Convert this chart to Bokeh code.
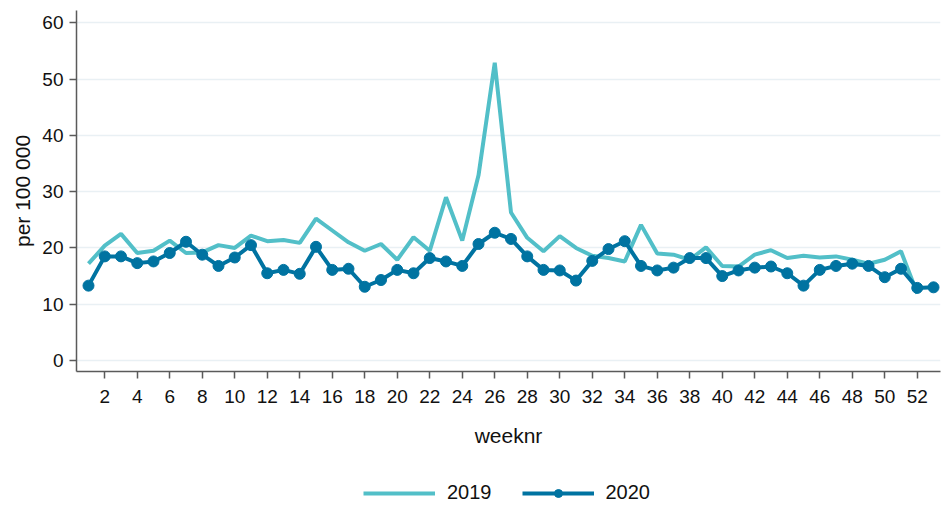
from bokeh.plotting import figure
from bokeh.models import FixedTicker, Legend, LegendItem, Range1d
from bokeh.layouts import column
from bokeh.embed import file_html
from bokeh.resources import INLINE

weeks_2019 = list(range(1, 53))
rate_2019 = [17.2, 20.4, 22.5, 19.1, 19.5, 21.3, 19.1, 19.2, 20.5, 20.0,
             22.2, 21.2, 21.4, 20.9, 25.2, 23.1, 21.0, 19.5, 20.7, 17.9,
             21.9, 19.5, 29.0, 21.3, 32.9, 52.9, 26.3, 21.8, 19.4, 22.1,
             20.0, 18.6, 18.2, 17.6, 24.1, 19.0, 18.8, 17.9, 20.1, 16.8,
             16.7, 18.8, 19.6, 18.2, 18.6, 18.3, 18.5, 17.9, 17.2, 17.9,
             19.4, 11.9]

weeks_2020 = list(range(1, 54))
rate_2020 = [13.3, 18.5, 18.5, 17.3, 17.6, 19.1, 21.1, 18.8, 16.8, 18.3,
             20.5, 15.5, 16.1, 15.4, 20.2, 16.1, 16.3, 13.1, 14.3, 16.1,
             15.5, 18.2, 17.6, 16.8, 20.7, 22.7, 21.6, 18.5, 16.1, 16.0,
             14.2, 17.7, 19.8, 21.2, 16.8, 16.0, 16.5, 18.2, 18.2, 15.0,
             16.0, 16.5, 16.7, 15.5, 13.3, 16.1, 16.8, 17.2, 16.8, 14.8,
             16.3, 12.9, 13.0]

x_ticks = list(range(2, 53, 2))
y_ticks = [0, 10, 20, 30, 40, 50, 60]
series_names = ["2019", "2020"]

C2019 = "#52bfc8"
C2020 = "#0073a1"
FONT = "Liberation Sans"
AXC = "#5a5a5a"

p = figure(width=942, height=478, output_backend="svg", toolbar_location=None,
           x_range=Range1d(0.262, 53.43), y_range=Range1d(-1.96, 62.2),
           min_border_left=76, min_border_right=2, min_border_top=10,
           min_border_bottom=107)
p.outline_line_color = None
p.background_fill_color = "white"
p.border_fill_color = "white"

p.line(weeks_2019, rate_2019, line_color=C2019, line_width=4)
p.line(weeks_2020, rate_2020, line_color=C2020, line_width=4)
p.scatter(weeks_2020, rate_2020, size=11, fill_color=C2020, line_color=C2020)

p.xgrid.visible = False
p.ygrid.grid_line_color = "#e9f0f4"
p.ygrid.grid_line_width = 1.5

for ax in (p.xaxis[0], p.yaxis[0]):
    ax.axis_line_color = AXC
    ax.axis_line_width = 1.5
    ax.major_tick_line_color = AXC
    ax.major_tick_line_width = 1.5
    ax.major_tick_in = 0
    ax.major_tick_out = 7
    ax.minor_tick_line_color = None
    ax.major_label_text_font = FONT
    ax.major_label_text_font_size = "19px"
    ax.major_label_text_color = "#111111"
    ax.axis_label_text_font = FONT
    ax.axis_label_text_font_size = "21px"
    ax.axis_label_text_font_style = "normal"
    ax.axis_label_text_color = "#111111"

p.xaxis.ticker = FixedTicker(ticks=x_ticks)
p.yaxis.ticker = FixedTicker(ticks=y_ticks)
p.xaxis.axis_label = "weeknr"
p.yaxis.axis_label = "per 100 000"
p.xaxis.major_label_standoff = 11
p.xaxis.axis_label_standoff = 18
p.yaxis.major_label_standoff = 6
p.yaxis.axis_label_standoff = 5

# legend strip below the chart (series drawn out of view, only the legend shows)
lg = figure(width=942, height=28, output_backend="svg", toolbar_location=None,
            x_range=Range1d(0, 1), y_range=Range1d(1000, 1001),
            x_axis_location=None, y_axis_location=None, min_border=0)
lg.outline_line_color = None
lg.grid.visible = False
k19 = lg.line(weeks_2019, rate_2019, line_color=C2019, line_width=4)
k20l = lg.line(weeks_2020, rate_2020, line_color=C2020, line_width=4)
k20s = lg.scatter(weeks_2020, rate_2020, size=11, fill_color=C2020, line_color=C2020)

legend = Legend(items=[LegendItem(label=series_names[0], renderers=[k19]),
                       LegendItem(label=series_names[1], renderers=[k20l, k20s])],
                location=(287, 2), orientation="horizontal",
                glyph_width=72, glyph_height=20, label_height=20,
                label_standoff=12, spacing=30, padding=0, margin=0,
                border_line_color=None, background_fill_alpha=0,
                label_text_font=FONT, label_text_font_size="20px",
                label_text_color="#111111")
lg.add_layout(legend, "center")

open("out.html", "w").write(file_html(column(p, lg, spacing=0), INLINE))
